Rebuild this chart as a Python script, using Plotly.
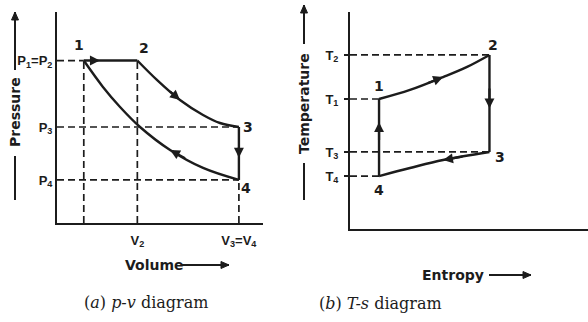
import plotly.graph_objects as go

# ---------------- data: p-v diagram ----------------
# state points 1..4 (arbitrary units)
v_state = [1.3, 3.9, 8.83, 8.83]
p_state = [7.7, 7.7, 4.55, 2.04]
# expansion curve 2 -> 3
v_exp = [3.9, 4.85, 5.97, 7.09, 7.91, 8.83]
p_exp = [7.7, 6.78, 5.83, 5.12, 4.74, 4.55]
# compression curve 4 -> 1
v_comp = [8.83, 7.09, 5.49, 4.03, 3.06, 2.23, 1.3]
p_comp = [2.04, 2.61, 3.46, 4.55, 5.50, 6.45, 7.7]
p_ticks = ["P<sub>1</sub>=P<sub>2</sub>", "P<sub>3</sub>", "P<sub>4</sub>"]
v_ticks = ["V<sub>2</sub>", "V<sub>3</sub>=V<sub>4</sub>"]

# ---------------- data: T-s diagram ----------------
s_state = [1.22, 5.86, 5.86, 1.22]
T_state = [5.99, 8.02, 3.55, 2.44]
# heat addition curve 1 -> 2
s_heat = [1.22, 2.52, 3.91, 4.92, 5.86]
T_heat = [5.99, 6.41, 7.00, 7.47, 8.02]
# heat rejection curve 3 -> 4
s_rej = [5.86, 3.91, 2.52, 1.22]
T_rej = [3.55, 3.18, 2.81, 2.44]
T_ticks = ["T<sub>2</sub>", "T<sub>1</sub>", "T<sub>3</sub>", "T<sub>4</sub>"]
state_labels = ["1", "2", "3", "4"]

INK = "#1c1c1c"
W, H = 588, 322
LBL = "DejaVu Sans"
SOLID = dict(color=INK, width=2.4)
DASH = dict(color=INK, width=1.7, dash="7px,4px")

fig = go.Figure()

def line(x, y, style, ax="", shape="linear"):
    l = dict(style)
    l["shape"] = shape
    fig.add_trace(go.Scatter(x=x, y=y, mode="lines", line=l, hoverinfo="skip",
                             showlegend=False, xaxis="x" + ax, yaxis="y" + ax))

# ---- p-v dashed guides ----
v1, v2, v3, v4 = v_state
p1, p2, p3, p4 = p_state
line([0, v1], [p1, p1], DASH)
line([0, v3], [p3, p3], DASH)
line([0, v4], [p4, p4], DASH)
line([v1, v1], [0, p1], DASH)
line([v2, v2], [0, p2], DASH)
line([v4, v4], [0, p4], DASH)
# ---- p-v cycle ----
line([v1, v2], [p1, p2], SOLID)
line(v_exp, p_exp, SOLID, shape="spline")
line([v3, v4], [p3, p4], SOLID)
line(v_comp, p_comp, SOLID, shape="spline")

# ---- T-s dashed guides ----
s1, s2, s3, s4 = s_state
T1, T2, T3, T4 = T_state
line([0, s2], [T2, T2], DASH, "2")
line([0, s1], [T1, T1], DASH, "2")
line([0, s3], [T3, T3], DASH, "2")
line([0, s4], [T4, T4], DASH, "2")
# ---- T-s cycle ----
line([s4, s1], [T4, T1], SOLID, "2")
line(s_heat, T_heat, SOLID, "2", shape="spline")
line([s2, s3], [T2, T3], SOLID, "2")
line(s_rej, T_rej, SOLID, "2", shape="spline")

ann = []

def arrow(xh, yh, xt, yt, ax=""):
    ann.append(dict(x=xh, y=yh, ax=xt, ay=yt, xref="x" + ax, yref="y" + ax,
                    axref="x" + ax, ayref="y" + ax, text="", showarrow=True,
                    arrowhead=2, arrowsize=0.9, arrowwidth=2.2, arrowcolor=INK,
                    standoff=0, startstandoff=0))

def along(a, b, f):
    return a + (b - a) * f

# direction arrows p-v
arrow(along(v1, v2, 0.3), p1, along(v1, v2, 0.12), p1)
arrow(v_exp[2], p_exp[2], along(v_exp[2], v_exp[1], 0.5), along(p_exp[2], p_exp[1], 0.5))
arrow(v3, along(p3, p4, 0.58), v3, along(p3, p4, 0.35))
arrow(v_comp[2], p_comp[2], along(v_comp[2], v_comp[1], 0.5), along(p_comp[2], p_comp[1], 0.5))
# direction arrows T-s
arrow(s4, along(T4, T1, 0.7), s4, along(T4, T1, 0.45), "2")
arrow(s_heat[2], T_heat[2], along(s_heat[2], s_heat[1], 0.5), along(T_heat[2], T_heat[1], 0.5), "2")
arrow(s2, along(T2, T3, 0.55), s2, along(T2, T3, 0.33), "2")
arrow(s_rej[1], T_rej[1], along(s_rej[1], s_rej[0], 0.45), along(T_rej[1], T_rej[0], 0.45), "2")

# state point labels
pv_off = [(-5, 16), (7, 13), (9, 0), (7, -8)]
ts_off = [(0, 13), (4, 10), (11, -5), (0, -14)]
for i, lab in enumerate(state_labels):
    ann.append(dict(x=v_state[i], y=p_state[i], xref="x", yref="y", text=lab,
                    showarrow=False, xshift=pv_off[i][0], yshift=pv_off[i][1],
                    xanchor="center", yanchor="middle",
                    font=dict(family=LBL, size=14, color=INK, weight="bold")))
    ann.append(dict(x=s_state[i], y=T_state[i], xref="x2", yref="y2", text=lab,
                    showarrow=False, xshift=ts_off[i][0], yshift=ts_off[i][1],
                    xanchor="center", yanchor="middle",
                    font=dict(family=LBL, size=14, color=INK, weight="bold")))

def px(x):
    return x / W

def py(y):
    return 1 - y / H

def text(x, y, s, font, angle=0):
    ann.append(dict(x=px(x), y=py(y), xref="paper", yref="paper", text=s, textangle=angle,
                    showarrow=False, xanchor="center", yanchor="middle", font=font))

shapes = []

def deco_arrow(x0, y0, x1, y1, head=True):
    # straight line from (x0, y0) to (x1, y1) in page pixels, triangle head at (x1, y1)
    shapes.append(dict(type="line", xref="paper", yref="paper", x0=px(x0), y0=py(y0),
                       x1=px(x1), y1=py(y1), line=dict(color=INK, width=2)))
    if head:
        dx, dy = x1 - x0, y1 - y0
        n = (dx * dx + dy * dy) ** 0.5
        ux, uy = dx / n, dy / n
        L, w = 8, 3.5
        bx, by = x1 - ux * L, y1 - uy * L
        pts = [(x1, y1), (bx - uy * w, by + ux * w), (bx + uy * w, by - ux * w)]
        path = "M " + " L ".join(f"{px(a):.5f},{py(b):.5f}" for a, b in pts) + " Z"
        shapes.append(dict(type="path", xref="paper", yref="paper", path=path,
                           fillcolor=INK, line=dict(color=INK, width=1)))

title_font = dict(family=LBL, size=14, color=INK, weight="bold")
# axis titles with arrows
text(15, 112, "Pressure", title_font, -90)
deco_arrow(15, 70, 15, 12)
deco_arrow(15, 200, 15, 156, head=False)
text(304, 104, "Temperature", title_font, -90)
deco_arrow(304, 44, 304, 5)
deco_arrow(304, 200, 304, 163, head=False)
text(154, 265, "Volume", title_font)
deco_arrow(182, 265, 229, 265)
text(453, 275, "Entropy", title_font)
deco_arrow(489, 275, 531, 275)
# captions
cap_font = dict(family="DejaVu Serif", size=16, color=INK)
text(146, 302, "(<i>a</i>) <i>p-v</i> diagram", cap_font)
text(380, 303, "(<i>b</i>) <i>T-s</i> diagram", cap_font)

tick_font = dict(family="Liberation Sans", size=13, color=INK, weight="bold")
ax_common = dict(showgrid=False, zeroline=False, showline=True, linecolor=INK, linewidth=2,
                 range=[0, 10], fixedrange=True)

fig.update_layout(
    width=W, height=H, margin=dict(l=0, r=0, t=0, b=0),
    paper_bgcolor="white", plot_bgcolor="white", showlegend=False,
    xaxis=dict(domain=[57 / W, 263 / W], anchor="y", tickvals=[v2, v3], ticktext=v_ticks,
               ticks="", tickfont=tick_font, ticklabelstandoff=4, **ax_common),
    yaxis=dict(domain=[py(223), py(12)], anchor="x", tickvals=[p1, p3, p4], ticktext=p_ticks,
               ticks="", tickfont=tick_font, ticklabelstandoff=0, **ax_common),
    xaxis2=dict(domain=[350 / W, 1.0], anchor="y2", showticklabels=False, ticks="", **ax_common),
    yaxis2=dict(domain=[py(229), py(12)], anchor="x2", tickvals=[T2, T1, T3, T4], ticktext=T_ticks,
                ticks="outside", ticklen=4, tickwidth=1.5, tickcolor=INK, tickfont=tick_font,
                ticklabelstandoff=3, **ax_common),
    annotations=ann, shapes=shapes,
)

fig.write_html("out.html")
